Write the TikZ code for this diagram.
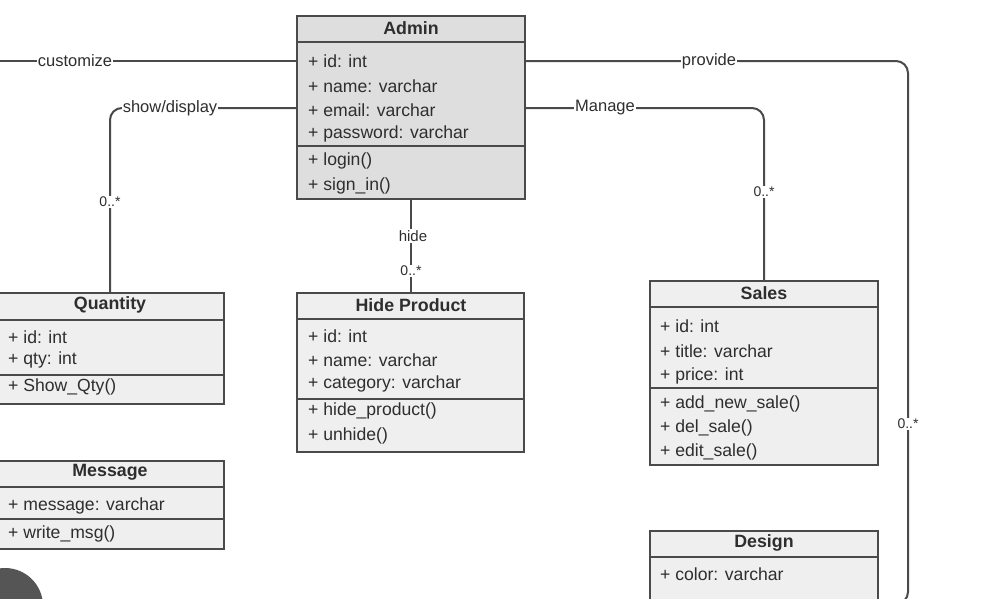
\documentclass[tikz,border=0pt]{standalone}
\usepackage{fontspec}
\setmainfont{Liberation Sans}
\definecolor{linec}{HTML}{4A4A4A}
\definecolor{txtc}{HTML}{2E2E2E}
\definecolor{adminfill}{HTML}{DEDEDE}
\definecolor{boxfill}{HTML}{EFEFEF}
\definecolor{circc}{HTML}{555555}
\begin{document}
\begin{tikzpicture}[x=1pt,y=-1pt,
  classbox/.style={draw=linec, line width=1.8pt, fill=boxfill, inner sep=0pt, outer sep=0pt, anchor=north west},
  divl/.style={draw=linec, line width=1.6pt},
  attr/.style={anchor=west, inner sep=0pt, text=txtc, font=\fontsize{17.6}{20}\selectfont},
  ctitle/.style={inner sep=0pt, text=txtc, font=\fontsize{17.8}{20}\selectfont\bfseries},
  conn/.style={draw=linec, line width=2pt, rounded corners=12pt},
  lbl/.style={fill=white, inner sep=1pt, text=txtc, font=\fontsize{16.5}{18}\selectfont},
  mult/.style={fill=white, inner sep=1.5pt, text=txtc, font=\fontsize{14}{16}\selectfont}
]
\useasboundingbox (0,0) rectangle (994,598);
\clip (0,0) rectangle (994,598);
\fill[white] (0,0) rectangle (994,598);

% ---------- Admin ----------
\node[classbox, fill=adminfill, minimum width=228pt, minimum height=183pt] (admin) at (297,16) {};
\draw[divl] ([yshift=-26pt]admin.north west) -- ([yshift=-26pt]admin.north east);
\draw[divl] ([yshift=-130pt]admin.north west) -- ([yshift=-130pt]admin.north east);
\node[ctitle] (adminT) at (411,28) {Admin};
\node[attr] (a1) at (308,61) {+ id: int};
\node[attr] (a2) at (308,86) {+ name: varchar};
\node[attr] (a3) at (308,110) {+ email: varchar};
\node[attr] (a4) at (308,134) {+ password: varchar};
\node[attr] (a5) at (308,161) {+ login()};
\node[attr] (a6) at (308,186) {+ sign\_in()};

% ---------- Quantity ----------
\node[classbox, minimum width=226pt, minimum height=111pt] (qty) at (-2,293) {};
\draw[divl] ([yshift=-27pt]qty.north west) -- ([yshift=-27pt]qty.north east);
\draw[divl] ([yshift=-82pt]qty.north west) -- ([yshift=-82pt]qty.north east);
\node[ctitle] (qtyT) at (110,305) {Quantity};
\node[attr] (q1) at (8,337) {+ id: int};
\node[attr] (q2) at (8,360) {+ qty: int};
\node[attr] (q3) at (8,387) {+ Show\_Qty()};

% ---------- Hide Product ----------
\node[classbox, minimum width=227pt, minimum height=159pt] (hide) at (297,293) {};
\draw[divl] ([yshift=-26pt]hide.north west) -- ([yshift=-26pt]hide.north east);
\draw[divl] ([yshift=-106pt]hide.north west) -- ([yshift=-106pt]hide.north east);
\node[ctitle] (hideT) at (411,305) {Hide Product};
\node[attr] (h1) at (308,336) {+ id: int};
\node[attr] (h2) at (308,360) {+ name: varchar};
\node[attr] (h3) at (308,384) {+ category: varchar};
\node[attr] (h4) at (308,411) {+ hide\_product()};
\node[attr] (h5) at (308,436) {+ unhide()};

% ---------- Sales ----------
\node[classbox, minimum width=228pt, minimum height=184pt] (sales) at (650,281) {};
\draw[divl] ([yshift=-26pt]sales.north west) -- ([yshift=-26pt]sales.north east);
\draw[divl] ([yshift=-107pt]sales.north west) -- ([yshift=-107pt]sales.north east);
\node[ctitle] (salesT) at (764,293) {Sales};
\node[attr] (s1) at (660,326) {+ id: int};
\node[attr] (s2) at (660,351) {+ title: varchar};
\node[attr] (s3) at (660,376) {+ price: int};
\node[attr] (s4) at (660,404) {+ add\_new\_sale()};
\node[attr] (s5) at (660,428) {+ del\_sale()};
\node[attr] (s6) at (660,452) {+ edit\_sale()};

% ---------- Message ----------
\node[classbox, minimum width=226pt, minimum height=88pt] (msg) at (-2,461) {};
\draw[divl] ([yshift=-26pt]msg.north west) -- ([yshift=-26pt]msg.north east);
\draw[divl] ([yshift=-58pt]msg.north west) -- ([yshift=-58pt]msg.north east);
\node[ctitle] (msgT) at (110,472) {Message};
\node[attr] (m1) at (8,506) {+ message: varchar};
\node[attr] (m2) at (8,534) {+ write\_msg()};

% ---------- Design ----------
\node[classbox, minimum width=228pt, minimum height=120pt] (design) at (650,531) {};
\draw[divl] ([yshift=-26pt]design.north west) -- ([yshift=-26pt]design.north east);
\node[ctitle] (designT) at (764,543) {Design};
\node[attr] (d1) at (660,574) {+ color: varchar};

% ---------- connector coordinates ----------
\coordinate (yc) at (0,61);
\coordinate (ys) at (0,108);
\coordinate (custEnd) at (-5,61);
\coordinate (showTurn) at (110,108);
\coordinate (provTurn) at (908,61);
\coordinate (provLow) at (908,604);
\coordinate (ydes) at (0,604);
\coordinate (manTurn) at (764,108);
\coordinate (hideX) at (411,0);

% customize
\draw[conn] (admin.west |- yc) -- (custEnd);
\node[lbl] (custL) at (75,61) {customize};
% show/display
\draw[conn] (admin.west |- ys) -- (showTurn) -- (qty.north -| showTurn);
\node[lbl] (showL) at (170,108) {show/display};
\node[mult] (showM) at (110,202) {0..*};
% provide
\draw[conn] (admin.east |- yc) -- (provTurn) -- (provLow) -- (design.east |- ydes);
\node[lbl] (provL) at (709,61) {provide};
\node[mult] (provM) at (908,424) {0..*};
% Manage
\draw[conn] (admin.east |- ys) -- (manTurn) -- (sales.north -| manTurn);
\node[lbl] (manL) at (605,108) {Manage};
\node[mult] (manM) at (764,192) {0..*};
% hide
\draw[conn] (admin.south -| hideX) -- (hide.north -| hideX);
\node[lbl, font=\fontsize{15}{17}\selectfont] (hideL) at (413,236) {hide};
\node[mult] (hideM) at (411,271) {0..*};

% dark circle at bottom-left
\fill[circc] (5,606) circle (38pt);
\end{tikzpicture}
\end{document}
